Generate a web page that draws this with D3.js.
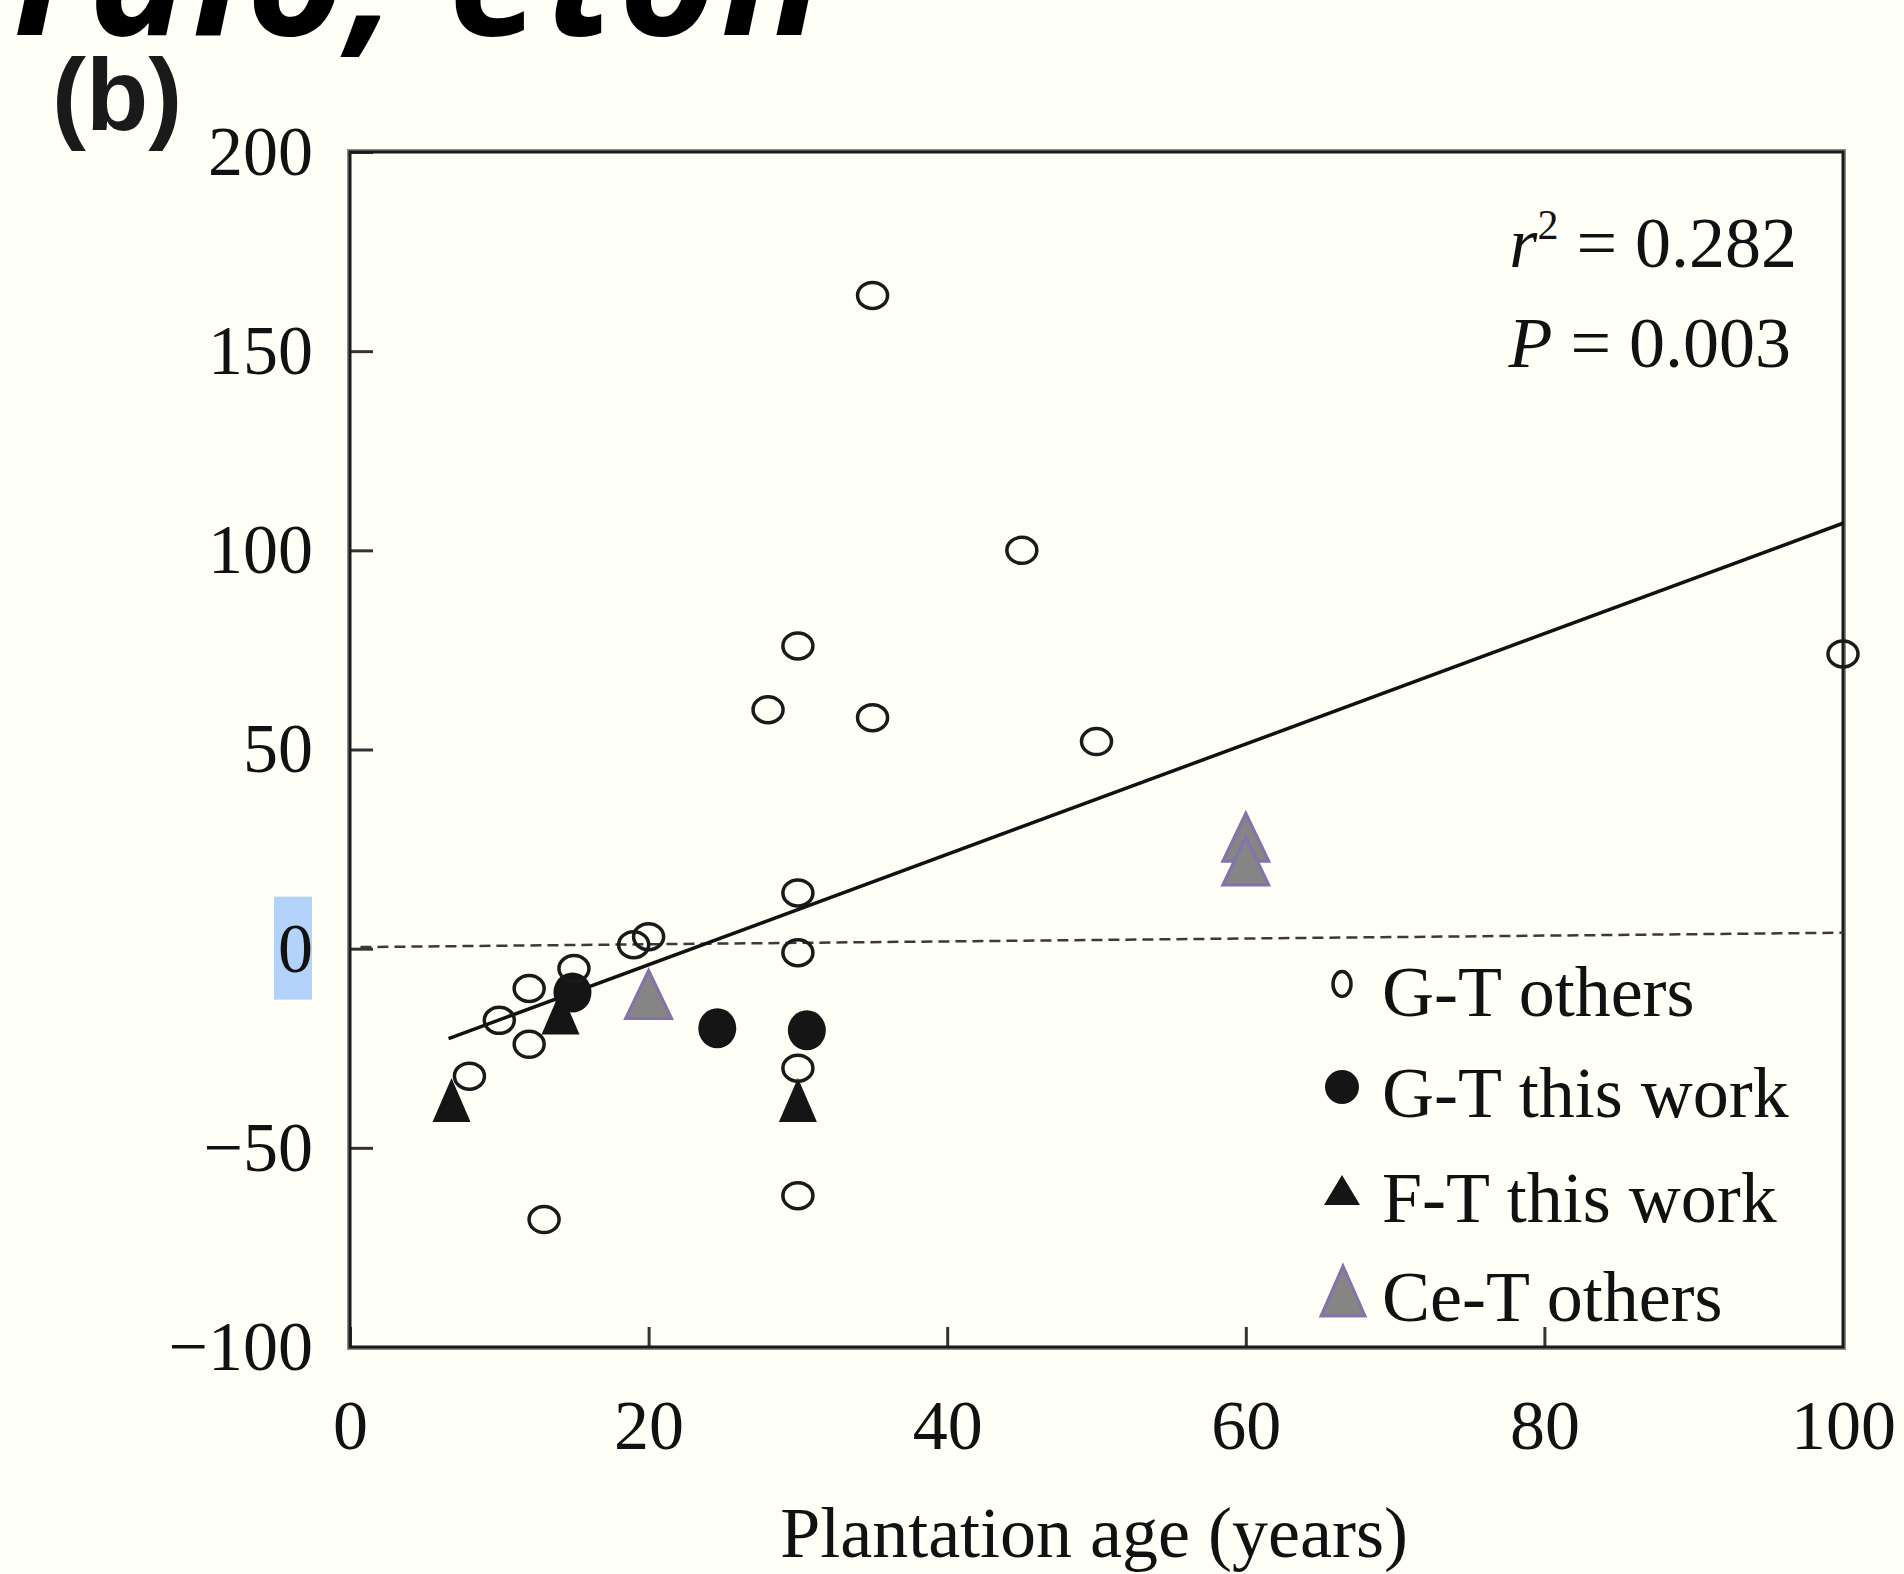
<!DOCTYPE html>
<html>
<head>
<meta charset="utf-8">
<script src="https://cdn.jsdelivr.net/npm/d3@7"></script>
<style>
  body { margin: 0; background: #fffff7; }
  svg { display: block; }
</style>
</head>
<body>
<div id="chart-area"></div>
<script>
// G-T others (open circles)
var gtOthersAge = [35, 45, 30, 28, 35, 50, 100, 30, 30, 20, 19, 15, 12, 10, 12, 8, 13, 30, 30];
var gtOthersVal = [164, 100, 76, 60, 58, 52, 74, 14, -1, 3, 1, -5, -10, -18, -24, -32, -68, -30, -62];
// G-T this work (filled circles)
var gtWorkAge = [24.6, 30.6, 14.9];
var gtWorkVal = [-20, -20.5, -11];
// F-T this work (black triangles)
var ftWorkAge = [6.8, 14.1, 30];
var ftWorkVal = [-38, -16, -38];
// Ce-T others (grey triangles)
var ceOthersAge = [20, 60, 60];
var ceOthersVal = [-11.5, 28, 22];
// regression and zero line
var fitAge = [6.6, 100];
var fitVal = [-22.6, 106.8];
var zeroAge = [0.7, 100];
var zeroVal = [0.4, 4];

var xTicks = [0, 20, 40, 60, 80, 100];
var yTicks = [-100, -50, 0, 50, 100, 150, 200];
var legendLabels = ["G-T others", "G-T this work", "F-T this work", "Ce-T others"];
var statLines = ["= 0.282", "= 0.003"];

var svg_width = 1904;
var svg_height = 1574;
var pLeft = 350, pRight = 1843, pTop = 152, pBottom = 1347;
var serif = "'Liberation Serif', 'Times New Roman', serif";

var svg = d3.select("#chart-area").append("svg")
    .attr("width", svg_width)
    .attr("height", svg_height);

svg.append("rect")
    .attr("width", svg_width)
    .attr("height", svg_height)
    .attr("fill", "#fffff7");

// cut-off heading at the very top
svg.append("text")
    .attr("x", 14)
    .attr("y", 35)
    .attr("font-family", "'Open Sans', 'DejaVu Sans', sans-serif")
    .attr("font-weight", "bold")
    .attr("font-style", "italic")
    .attr("font-size", 168)
    .attr("letter-spacing", 4)
    .attr("fill", "#000")
    .text("ralo, eton");

svg.append("text")
    .attr("x", 52)
    .attr("y", 130)
    .attr("font-family", "'Liberation Sans', Arial, sans-serif")
    .attr("font-weight", "bold")
    .attr("font-size", 102)
    .attr("fill", "#1a1a1a")
    .text("(b)");

var x = d3.scaleLinear()
    .domain([0, 100])
    .range([pLeft, pRight]);

var y = d3.scaleLinear()
    .domain([-100, 200])
    .range([pBottom, pTop]);

// selection highlight behind the 0 label
svg.append("rect")
    .attr("x", 274)
    .attr("y", y(0) - 52)
    .attr("width", 38)
    .attr("height", 103)
    .attr("fill", "#b4d3fb");

var xAxis = svg.append("g")
    .attr("transform", "translate(0," + pBottom + ")")
    .call(d3.axisBottom(x).tickValues(xTicks).tickSize(-20).tickPadding(52));

var yAxis = svg.append("g")
    .attr("transform", "translate(" + pLeft + ",0)")
    .call(d3.axisLeft(y).tickValues(yTicks).tickSize(-23).tickPadding(37));

[xAxis, yAxis].forEach((g)=>{
    g.select(".domain").remove();
    g.selectAll("line").attr("stroke", "#333").attr("stroke-width", 3);
    g.selectAll("text")
        .attr("font-family", serif)
        .attr("font-size", 70)
        .attr("fill", "#111");
});

// frame
svg.append("rect")
    .attr("x", pLeft - 2)
    .attr("y", pTop - 2)
    .attr("width", pRight - pLeft + 4)
    .attr("height", pBottom - pTop + 4)
    .attr("fill", "none")
    .attr("stroke", "#8a8a8a")
    .attr("stroke-width", 2);
svg.append("rect")
    .attr("x", pLeft)
    .attr("y", pTop)
    .attr("width", pRight - pLeft)
    .attr("height", pBottom - pTop)
    .attr("fill", "none")
    .attr("stroke", "#1a1a1a")
    .attr("stroke-width", 3);

var line = d3.line()
    .x((d)=>{ return x(d[0]); })
    .y((d)=>{ return y(d[1]); });

svg.append("path")
    .datum(d3.zip(zeroAge, zeroVal))
    .attr("d", line)
    .attr("fill", "none")
    .attr("stroke", "#3a3a3a")
    .attr("stroke-width", 2.5)
    .attr("stroke-dasharray", "11,6");

svg.append("path")
    .datum(d3.zip(fitAge, fitVal))
    .attr("d", line)
    .attr("fill", "none")
    .attr("stroke", "#111")
    .attr("stroke-width", 3.5);

var tri = (w, h)=>{
    return "M0," + (-h / 2) + "L" + (w / 2) + "," + (h / 2) + "L" + (-w / 2) + "," + (h / 2) + "Z";
};

svg.selectAll(".ce")
    .data(d3.zip(ceOthersAge, ceOthersVal))
    .enter()
    .append("path")
    .attr("class", "ce")
    .attr("transform", (d)=>{ return "translate(" + x(d[0]) + "," + y(d[1]) + ")"; })
    .attr("d", tri(46, 48))
    .attr("fill", "#858585")
    .attr("stroke", "#8373ad")
    .attr("stroke-width", 3);

svg.selectAll(".ft")
    .data(d3.zip(ftWorkAge, ftWorkVal))
    .enter()
    .append("path")
    .attr("class", "ft")
    .attr("transform", (d)=>{ return "translate(" + x(d[0]) + "," + y(d[1]) + ")"; })
    .attr("d", tri(38, 44))
    .attr("fill", "#151515");

svg.selectAll(".gtw")
    .data(d3.zip(gtWorkAge, gtWorkVal))
    .enter()
    .append("ellipse")
    .attr("class", "gtw")
    .attr("cx", (d)=>{ return x(d[0]); })
    .attr("cy", (d)=>{ return y(d[1]); })
    .attr("rx", 19)
    .attr("ry", 20)
    .attr("fill", "#151515");

svg.selectAll(".gto")
    .data(d3.zip(gtOthersAge, gtOthersVal))
    .enter()
    .append("ellipse")
    .attr("class", "gto")
    .attr("cx", (d)=>{ return x(d[0]); })
    .attr("cy", (d)=>{ return y(d[1]); })
    .attr("rx", 15)
    .attr("ry", 13)
    .attr("fill", "none")
    .attr("stroke", "#1a1a1a")
    .attr("stroke-width", 3.5);

// statistics
var stats = svg.append("g")
    .attr("font-family", serif)
    .attr("font-size", 72)
    .attr("fill", "#111");
var r2 = stats.append("text").attr("x", 1797).attr("y", 267).attr("text-anchor", "end");
r2.append("tspan").attr("font-style", "italic").text("r");
r2.append("tspan").attr("font-size", 42).attr("dy", -28).text("2");
r2.append("tspan").attr("dy", 28).text(" " + statLines[0]);
var pv = stats.append("text").attr("x", 1791).attr("y", 367).attr("text-anchor", "end");
pv.append("tspan").attr("font-style", "italic").text("P");
pv.append("tspan").text(" " + statLines[1]);

// legend
var legY = [1016, 1117, 1222, 1321];
var legend = svg.append("g");
legend.append("ellipse").attr("cx", 1342).attr("cy", legY[0] - 32).attr("rx", 9).attr("ry", 12.5)
    .attr("fill", "none").attr("stroke", "#1a1a1a").attr("stroke-width", 3.5);
legend.append("circle").attr("cx", 1342).attr("cy", legY[1] - 30).attr("r", 17)
    .attr("fill", "#151515");
legend.append("path").attr("transform", "translate(1342," + (legY[2] - 32) + ")")
    .attr("d", tri(36, 30)).attr("fill", "#151515");
legend.append("path").attr("transform", "translate(1343," + (legY[3] - 30) + ")")
    .attr("d", tri(44, 50)).attr("fill", "#858585").attr("stroke", "#8373ad").attr("stroke-width", 3);
legend.selectAll("text")
    .data(legendLabels)
    .enter()
    .append("text")
    .attr("x", 1382)
    .attr("y", (d, i)=>{ return legY[i]; })
    .attr("font-family", serif)
    .attr("font-size", 72)
    .attr("fill", "#111")
    .text((d)=>{ return d; });

svg.append("text")
    .attr("x", 1094)
    .attr("y", 1557)
    .attr("text-anchor", "middle")
    .attr("font-family", serif)
    .attr("font-size", 72)
    .attr("fill", "#111")
    .text("Plantation age (years)");
</script>
</body>
</html>
